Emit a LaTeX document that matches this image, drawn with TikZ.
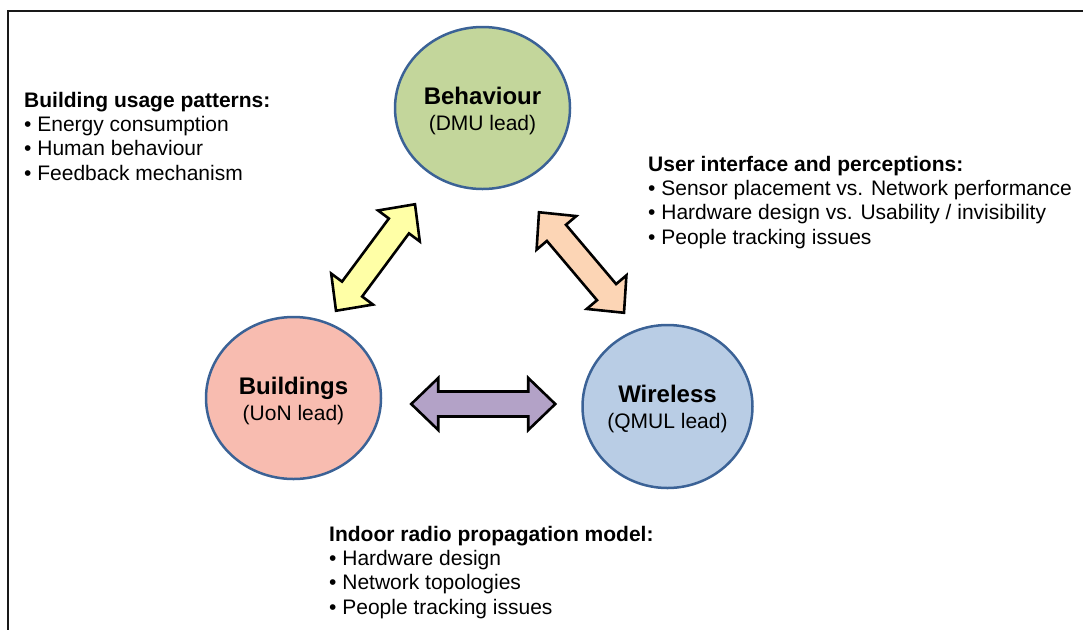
\documentclass[tikz,border=0pt]{standalone}
\usepackage{xcolor}
\usepackage{fontspec}
\setmainfont{Liberation Sans}
\usetikzlibrary{calc,shapes.geometric}

\definecolor{ringblue}{HTML}{3B6296}
\definecolor{behgreen}{HTML}{C3D69B}
\definecolor{buildpink}{HTML}{F8BCB0}
\definecolor{wireblue}{HTML}{B9CDE5}
\definecolor{linkyellow}{HTML}{FFFFA6}
\definecolor{linkorange}{HTML}{FCD5B5}
\definecolor{linkpurple}{HTML}{B3A2C7}

\begin{document}
\begin{tikzpicture}[x=1pt, y=-1pt,
    topic/.style={ellipse, draw=ringblue, line width=2.5pt, inner sep=0pt,
        minimum width=175pt, minimum height=162pt, align=center,
        font=\fontsize{21}{26}\selectfont},
    notes/.style={anchor=north west, align=left, inner sep=0pt,
        font=\fontsize{21}{24.2}\selectfont},
    fatarrow/.style={draw=black, line width=2.6pt, line join=miter,
        to path={let \p1=($(\tikztotarget)-(\tikztostart)$),
            \n1={atan2(\y1,\x1)}, \n2={veclen(\x1,\y1)} in
            [shift={(\tikztostart)}, rotate=\n1]
            (0pt,0pt) -- (27pt,26pt) -- (27pt,12.5pt) -- ({\n2-27pt},12.5pt)
            -- ({\n2-27pt},26pt) -- (\n2,0pt) -- ({\n2-27pt},-26pt)
            -- ({\n2-27pt},-12.5pt) -- (27pt,-12.5pt) -- (27pt,-26pt) -- cycle}}
]
    \useasboundingbox (0,0) rectangle (1083,630);

    % Frame
    \draw[line width=2.4pt, black!90] (1083,11) -- (8,11) -- (8,630);

    % Behaviour
    \node[topic, fill=behgreen] (behaviour) at (482.5,108)
        {{\fontsize{24}{26}\selectfont\bfseries\rule{0pt}{23pt}Behaviour}\\(DMU lead)};

    % Buildings
    \node[topic, fill=buildpink] (buildings) at (293.5,398)
        {{\fontsize{24}{26}\selectfont\bfseries\rule{0pt}{23pt}Buildings}\\(UoN lead)};

    % Wireless
    \node[topic, fill=wireblue, minimum width=169pt, minimum height=163pt] (wireless) at (667.5,406.5)
        {{\fontsize{24}{26}\selectfont\bfseries\rule{0pt}{23pt}Wireless}\\(QMUL lead)};

    % Notes
    \node[notes] (usage) at (24,92) {\textbf{Building usage patterns:}\\
        • Energy consumption\\• Human behaviour\\• Feedback mechanism};
    \node[notes] (interface) at (648,156) {\textbf{User interface and perceptions:}\\
        • Sensor placement vs. Network performance\\
        • Hardware design vs. Usability / invisibility\\
        • People tracking issues};
    \node[notes] (radio) at (329,526) {\textbf{Indoor radio propagation model:}\\
        • Hardware design\\• Network topologies\\• People tracking issues};

    % Arrow ends
    \coordinate (ylwA) at ([shift={(42.5,-5)}]buildings.north);
    \coordinate (ylwB) at ([shift={(-67.5,14)}]behaviour.south);
    \coordinate (orgA) at ([shift={(56.5,22)}]behaviour.south);
    \coordinate (orgB) at ([shift={(-43.5,-11)}]wireless.north);
    \coordinate (prpA) at ([shift={(29,6)}]buildings.east);
    \coordinate (prpB) at ([shift={(-26,-2.5)}]wireless.west);

    % Arrows
    \draw[fatarrow, fill=linkyellow] (ylwA) to (ylwB);
    \draw[fatarrow, fill=linkorange] (orgA) to (orgB);
    \draw[fatarrow, fill=linkpurple] (prpA) to (prpB);
\end{tikzpicture}
\end{document}
